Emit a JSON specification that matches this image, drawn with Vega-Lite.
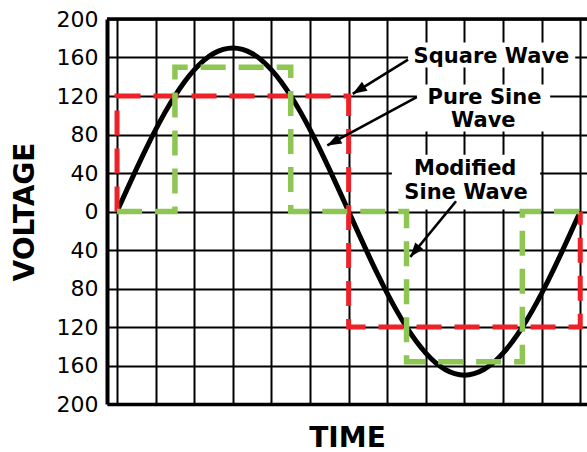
{
  "$schema": "https://vega.github.io/schema/vega-lite/v6.json",
  "width": 480,
  "height": 385,
  "autosize": {"type": "none"},
  "padding": {"left": 107, "top": 19, "right": 0, "bottom": 48},
  "background": "white",
  "config": {
    "view": {"stroke": null},
    "font": "DejaVu Sans",
    "axis": {"gridColor": "black", "gridWidth": 2, "gridOpacity": 1, "domainColor": "black", "ticks": false, "labelOverlap": false, "tickCount": 30}
  },
  "datasets": {
    "sine": [
      {"t": 0, "v": 0}, {"t": 0.25, "v": 22.2}, {"t": 0.5, "v": 44.0}, {"t": 0.75, "v": 65.1},
      {"t": 1, "v": 85.0}, {"t": 1.25, "v": 103.5}, {"t": 1.5, "v": 120.2}, {"t": 1.75, "v": 134.9},
      {"t": 2, "v": 147.2}, {"t": 2.25, "v": 157.1}, {"t": 2.5, "v": 164.2}, {"t": 2.75, "v": 168.5},
      {"t": 3, "v": 170.0}, {"t": 3.25, "v": 168.5}, {"t": 3.5, "v": 164.2}, {"t": 3.75, "v": 157.1},
      {"t": 4, "v": 147.2}, {"t": 4.25, "v": 134.9}, {"t": 4.5, "v": 120.2}, {"t": 4.75, "v": 103.5},
      {"t": 5, "v": 85.0}, {"t": 5.25, "v": 65.1}, {"t": 5.5, "v": 44.0}, {"t": 5.75, "v": 22.2},
      {"t": 6, "v": 0}, {"t": 6.25, "v": -22.2}, {"t": 6.5, "v": -44.0}, {"t": 6.75, "v": -65.1},
      {"t": 7, "v": -85.0}, {"t": 7.25, "v": -103.5}, {"t": 7.5, "v": -120.2}, {"t": 7.75, "v": -134.9},
      {"t": 8, "v": -147.2}, {"t": 8.25, "v": -157.1}, {"t": 8.5, "v": -164.2}, {"t": 8.75, "v": -168.5},
      {"t": 9, "v": -170.0}, {"t": 9.25, "v": -168.5}, {"t": 9.5, "v": -164.2}, {"t": 9.75, "v": -157.1},
      {"t": 10, "v": -147.2}, {"t": 10.25, "v": -134.9}, {"t": 10.5, "v": -120.2}, {"t": 10.75, "v": -103.5},
      {"t": 11, "v": -85.0}, {"t": 11.25, "v": -65.1}, {"t": 11.5, "v": -44.0}, {"t": 11.75, "v": -22.2},
      {"t": 12, "v": 0}
    ],
    "square": [
      {"i": 0, "t": 0, "v": 0}, {"i": 1, "t": 0, "v": 120}, {"i": 2, "t": 6, "v": 120},
      {"i": 3, "t": 6, "v": -120}, {"i": 4, "t": 12, "v": -120}, {"i": 5, "t": 12, "v": 0}
    ],
    "modified": [
      {"i": 0, "t": 0, "v": 0}, {"i": 1, "t": 1.5, "v": 0}, {"i": 2, "t": 1.5, "v": 150},
      {"i": 3, "t": 4.5, "v": 150}, {"i": 4, "t": 4.5, "v": 0}, {"i": 5, "t": 7.5, "v": 0},
      {"i": 6, "t": 7.5, "v": -156}, {"i": 7, "t": 10.5, "v": -156}, {"i": 8, "t": 10.5, "v": 0},
      {"i": 9, "t": 12, "v": 0}
    ],
    "boxes": [
      {"x": 7.54, "x2": 11.87, "y": 149.6, "y2": 175.6},
      {"x": 7.77, "x2": 11.22, "y": 83, "y2": 132},
      {"x": 7.12, "x2": 10.96, "y": 2, "y2": 59}
    ],
    "notes": [
      {"x": 9.7, "y": 154.8, "text": "Square Wave"},
      {"x": 9.52, "y": 112.2, "text": "Pure Sine"},
      {"x": 9.49, "y": 87.3, "text": "Wave"},
      {"x": 9.02, "y": 38.4, "text": "Modified"},
      {"x": 9.04, "y": 12.5, "text": "Sine Wave"}
    ],
    "arrows": [
      {"name": "square", "x1": 7.539, "y1": 157.9, "x2": 6.106, "y2": 122.3},
      {"name": "pure", "x1": 7.764, "y1": 118.8, "x2": 5.448, "y2": 68.6},
      {"name": "modified", "x1": 8.782, "y1": 10.7, "x2": 7.598, "y2": -47.1}
    ],
    "frame": [{"v": 200}]
  },
  "layer": [
    {
      "data": {"name": "boxes"},
      "mark": {"type": "rect", "fill": "white"},
      "encoding": {
        "x": {"field": "x", "type": "quantitative", "scale": {"domain": [-0.26, 12.175], "nice": false, "zero": false},
          "axis": {"values": [0,1,2,3,4,5,6,7,8,9,10,11,12], "tickCount": 30, "labels": false, "domainWidth": 3.5, "title": "TIME",
            "titleFontSize": 28, "titleFontWeight": "bold", "titlePadding": 20, "titleColor": "black"}},
        "x2": {"field": "x2"},
        "y": {"field": "y", "type": "quantitative", "scale": {"domain": [-200, 200], "nice": false, "zero": false},
          "axis": {"values": [-200,-160,-120,-80,-40,0,40,80,120,160,200], "tickCount": 30, "labelOverlap": false, "labelExpr": "abs(datum.value)",
            "labelFontSize": 22, "labelColor": "black", "labelPadding": 9, "domainWidth": 4, "title": "VOLTAGE",
            "titleFontSize": 28, "titleFontWeight": "bold", "titlePadding": 17, "titleColor": "black"}},
        "y2": {"field": "y2"}
      }
    },
    {
      "data": {"name": "frame"},
      "mark": {"type": "rule", "color": "black", "strokeWidth": 3.5},
      "encoding": {"y": {"field": "v", "type": "quantitative"}}
    },
    {
      "data": {"name": "sine"},
      "mark": {"type": "line", "color": "black", "strokeWidth": 5, "interpolate": "monotone"},
      "encoding": {"x": {"field": "t", "type": "quantitative"}, "y": {"field": "v", "type": "quantitative"}}
    },
    {
      "data": {"name": "square"},
      "mark": {"type": "line", "color": "#ED2127", "strokeWidth": 5, "strokeDash": [25, 13]},
      "encoding": {"x": {"field": "t", "type": "quantitative"}, "y": {"field": "v", "type": "quantitative"}, "order": {"field": "i"}}
    },
    {
      "data": {"name": "modified"},
      "mark": {"type": "line", "color": "#8DC653", "strokeWidth": 5.5, "strokeDash": [25, 13]},
      "encoding": {"x": {"field": "t", "type": "quantitative"}, "y": {"field": "v", "type": "quantitative"}, "order": {"field": "i"}}
    },
    {
      "data": {"name": "arrows"},
      "mark": {"type": "rule", "color": "black", "strokeWidth": 2.6},
      "encoding": {
        "x": {"field": "x1", "type": "quantitative"}, "y": {"field": "y1", "type": "quantitative"},
        "x2": {"field": "x2"}, "y2": {"field": "y2"}
      }
    },
    {
      "data": {"name": "arrows"},
      "transform": [{"filter": "datum.name == 'square'"}],
      "mark": {"type": "point", "shape": "M0,0L-0.75,2L0.75,2Z", "filled": true, "color": "black", "opacity": 1, "size": 200, "angle": 238.2},
      "encoding": {"x": {"field": "x2", "type": "quantitative"}, "y": {"field": "y2", "type": "quantitative"}}
    },
    {
      "data": {"name": "arrows"},
      "transform": [{"filter": "datum.name == 'pure'"}],
      "mark": {"type": "point", "shape": "M0,0L-0.75,2L0.75,2Z", "filled": true, "color": "black", "opacity": 1, "size": 200, "angle": 241.6},
      "encoding": {"x": {"field": "x2", "type": "quantitative"}, "y": {"field": "y2", "type": "quantitative"}}
    },
    {
      "data": {"name": "arrows"},
      "transform": [{"filter": "datum.name == 'modified'"}],
      "mark": {"type": "point", "shape": "M0,0L-0.75,2L0.75,2Z", "filled": true, "color": "black", "opacity": 1, "size": 200, "angle": 219.4},
      "encoding": {"x": {"field": "x2", "type": "quantitative"}, "y": {"field": "y2", "type": "quantitative"}}
    },
    {
      "data": {"name": "notes"},
      "mark": {"type": "text", "font": "DejaVu Sans", "fontWeight": "bold", "fontSize": 21, "align": "center", "baseline": "alphabetic", "color": "black"},
      "encoding": {"x": {"field": "x", "type": "quantitative"}, "y": {"field": "y", "type": "quantitative"}, "text": {"field": "text"}}
    }
  ]
}
